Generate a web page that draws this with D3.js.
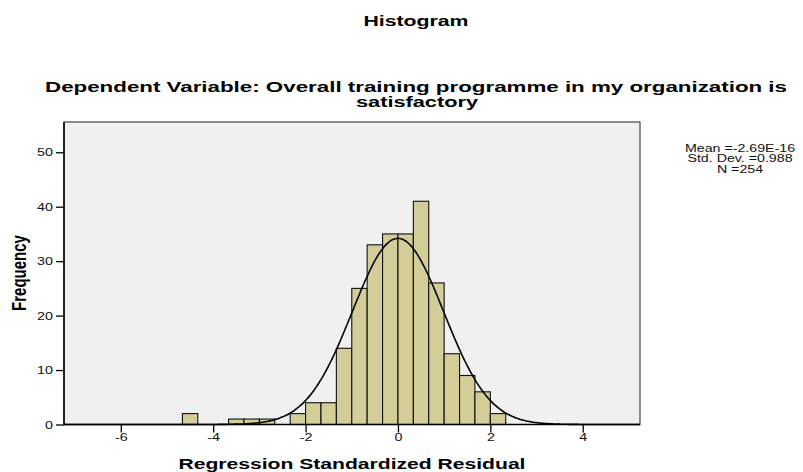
<!DOCTYPE html>
<html><head><meta charset="utf-8">
<script src="https://cdn.jsdelivr.net/npm/d3@7"></script>
<style>body{margin:0;background:#fff}svg{display:block}text{font-family:"Liberation Sans",Arial,sans-serif}</style>
</head><body><svg id="c" width="803" height="472"></svg>
<script>
// ---- data ----
const binWidth = 1/3;
const binIndex = [-14,-11,-10,-9,-7,-6,-5,-4,-3,-2,-1,0,1,2,3,4,5,6]; // left edge in units of binWidth
const counts   = [2,1,1,1,2,4,4,14,25,33,35,35,41,26,13,9,6,2];
const xTicks = [-6,-4,-2,0,2,4];
const yTicks = [0,10,20,30,40,50];
const statMean = -2.69e-16, statSD = 0.988, statN = 254;
const statLines = ["Mean =-2.69E-16","Std. Dev. =0.988","N =254"];
const title = "Histogram";
const subtitle = ["Dependent Variable: Overall training programme in my organization is","satisfactory"];
const xLabel = "Regression Standardized Residual";
const yLabel = "Frequency";

const svg = d3.select("#c");
const L=64, R=640, T=122, B=424.5;
const x = d3.scaleLinear().domain([-7.23,5.24]).range([L,R]);
const y = d3.scaleLinear().domain([0,55.56]).range([B,T]);
const SX = 1.4;
function stretch(sel, f){ sel.each(function(){ const w=this.getComputedTextLength(); d3.select(this).attr("textLength", w*(f||SX)).attr("lengthAdjust","spacingAndGlyphs"); }); }

svg.append("rect").attr("x",L).attr("y",T).attr("width",R-L).attr("height",B-T)
  .attr("fill","#f0f0f0").attr("stroke","#222").attr("stroke-width",1);

const bars = binIndex.map((k,i)=>({x0:k*binWidth, x1:(k+1)*binWidth, n:counts[i]}));
svg.append("g").selectAll("rect").data(bars).join("rect")
  .attr("x",d=>x(d.x0)).attr("width",d=>x(d.x1)-x(d.x0))
  .attr("y",d=>y(d.n)).attr("height",d=>y(0)-y(d.n))
  .attr("fill","#d3ce97").attr("stroke","#111").attr("stroke-width",1.1);

// fitted normal curve from reported statistics
const dom = x.domain();
const pts = d3.range(0,401).map(i=>{const xv=dom[0]+(dom[1]-dom[0])*i/400;
  const z=(xv-statMean)/statSD; return [xv, statN*binWidth*Math.exp(-0.5*z*z)/(statSD*Math.sqrt(2*Math.PI))];});
svg.append("path").datum(pts).attr("fill","none").attr("stroke","#000").attr("stroke-width",1.6)
  .attr("d",d3.line().x(d=>x(d[0])).y(d=>y(d[1])).curve(d3.curveBasis));

// axes
const fmt = d => String(d);
const xa = svg.append("g").attr("transform",`translate(0,${B})`)
  .call(d3.axisBottom(x).tickValues(xTicks).tickSize(8).tickSizeOuter(0).tickFormat(fmt));
const ya = svg.append("g").attr("transform",`translate(${L},0)`)
  .call(d3.axisLeft(y).tickValues(yTicks).tickSize(8).tickSizeOuter(0).tickFormat(fmt));
[xa,ya].forEach(a=>{a.select(".domain").remove(); a.selectAll("line").attr("stroke","#000").attr("stroke-width",1.3);
  a.selectAll("text").attr("font-size",11).attr("fill","#111");});
xa.selectAll("text").attr("dy","0.95em").attr("y",6);
ya.selectAll("text").attr("x",-11);
stretch(xa.selectAll("text"),1.3); stretch(ya.selectAll("text"),1.3);
svg.append("line").attr("x1",L).attr("x2",L).attr("y1",T).attr("y2",B).attr("stroke","#000").attr("stroke-width",1.5);
svg.append("line").attr("x1",L).attr("x2",R).attr("y1",B).attr("y2",B).attr("stroke","#000").attr("stroke-width",1.5);

// titles
svg.append("text").attr("x",416).attr("y",26).attr("text-anchor","middle").attr("font-size",14).attr("font-weight","bold").text(title)
  .attr("textLength",105).attr("lengthAdjust","spacingAndGlyphs");
svg.append("text").attr("x",416).attr("y",92).attr("text-anchor","middle").attr("font-size",14.5).attr("font-weight","bold").text(subtitle[0])
  .attr("textLength",742).attr("lengthAdjust","spacingAndGlyphs");
svg.append("text").attr("x",417).attr("y",107).attr("text-anchor","middle").attr("font-size",14.5).attr("font-weight","bold").text(subtitle[1])
  .attr("textLength",122).attr("lengthAdjust","spacingAndGlyphs");
svg.append("text").attr("x",352).attr("y",469).attr("text-anchor","middle").attr("font-size",14).attr("font-weight","bold").text(xLabel)
  .attr("textLength",347).attr("lengthAdjust","spacingAndGlyphs");
svg.append("text").attr("text-anchor","middle").attr("font-size",15).attr("font-weight","bold")
  .attr("transform","translate(26,273) rotate(-90) scale(1,1.35)").text(yLabel);
const st = svg.append("g");
statLines.forEach((s,i)=>st.append("text").attr("x",740).attr("y",151.5+i*10.8).attr("text-anchor","middle").attr("font-size",10).attr("fill","#111").text(s));
stretch(st.selectAll("text"),1.42);
</script></body></html>
